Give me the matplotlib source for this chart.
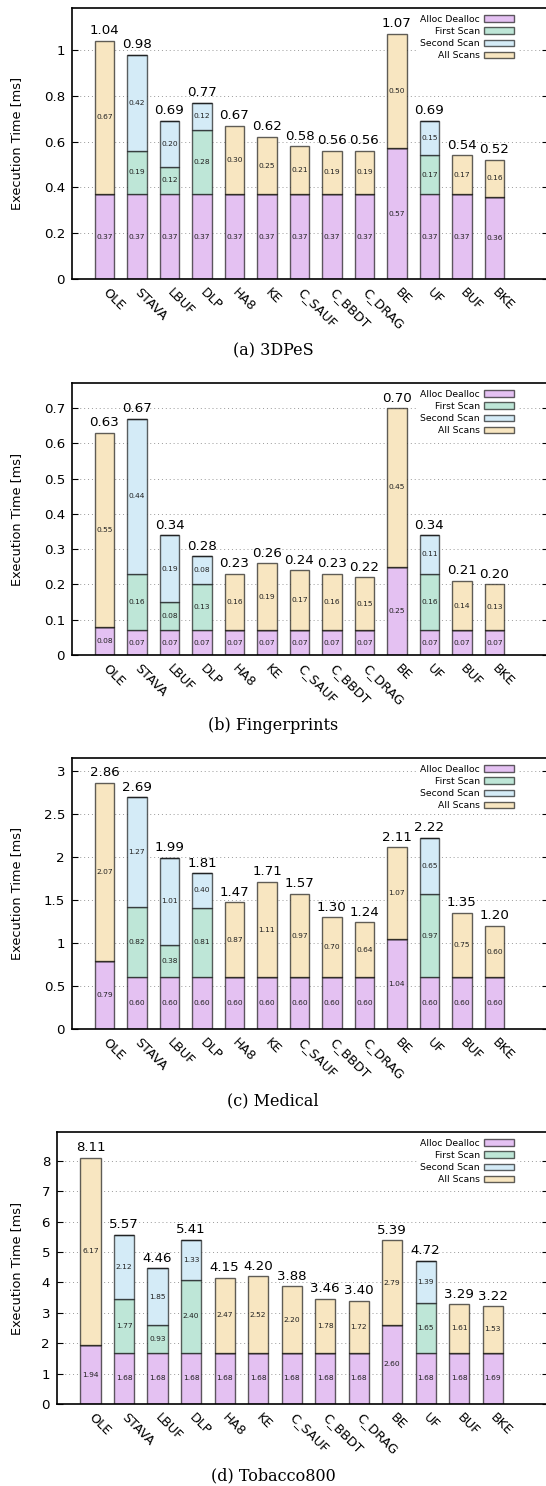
import matplotlib
matplotlib.use("Agg")
import matplotlib.pyplot as plt
import numpy as np

W, H = 546, 1486
DPI = 100

methods = ["OLE", "STAVA", "LBUF", "DLP", "HA8", "KE", "C_SAUF",
           "C_BBDT", "C_DRAG", "BE", "UF", "BUF", "BKE"]
series = ["Alloc Dealloc", "First Scan", "Second Scan", "All Scans"]
colors = ["#e4c1f2", "#bee6d7", "#d4ebf7", "#f8e6c1"]

# (a) 3DPeS
alloc_3dpes = [0.37, 0.37, 0.37, 0.37, 0.37, 0.37, 0.37, 0.37, 0.37, 0.57, 0.37, 0.37, 0.36]
first_3dpes = [0, 0.19, 0.12, 0.28, 0, 0, 0, 0, 0, 0, 0.17, 0, 0]
second_3dpes = [0, 0.42, 0.20, 0.12, 0, 0, 0, 0, 0, 0, 0.15, 0, 0]
all_3dpes = [0.67, 0, 0, 0, 0.30, 0.25, 0.21, 0.19, 0.19, 0.50, 0, 0.17, 0.16]
total_3dpes = [1.04, 0.98, 0.69, 0.77, 0.67, 0.62, 0.58, 0.56, 0.56, 1.07, 0.69, 0.54, 0.52]

# (b) Fingerprints
alloc_fing = [0.08, 0.07, 0.07, 0.07, 0.07, 0.07, 0.07, 0.07, 0.07, 0.25, 0.07, 0.07, 0.07]
first_fing = [0, 0.16, 0.08, 0.13, 0, 0, 0, 0, 0, 0, 0.16, 0, 0]
second_fing = [0, 0.44, 0.19, 0.08, 0, 0, 0, 0, 0, 0, 0.11, 0, 0]
all_fing = [0.55, 0, 0, 0, 0.16, 0.19, 0.17, 0.16, 0.15, 0.45, 0, 0.14, 0.13]
total_fing = [0.63, 0.67, 0.34, 0.28, 0.23, 0.26, 0.24, 0.23, 0.22, 0.70, 0.34, 0.21, 0.20]

# (c) Medical
alloc_med = [0.79, 0.60, 0.60, 0.60, 0.60, 0.60, 0.60, 0.60, 0.60, 1.04, 0.60, 0.60, 0.60]
first_med = [0, 0.82, 0.38, 0.81, 0, 0, 0, 0, 0, 0, 0.97, 0, 0]
second_med = [0, 1.27, 1.01, 0.40, 0, 0, 0, 0, 0, 0, 0.65, 0, 0]
all_med = [2.07, 0, 0, 0, 0.87, 1.11, 0.97, 0.70, 0.64, 1.07, 0, 0.75, 0.60]
total_med = [2.86, 2.69, 1.99, 1.81, 1.47, 1.71, 1.57, 1.30, 1.24, 2.11, 2.22, 1.35, 1.20]

# (d) Tobacco800
alloc_tob = [1.94, 1.68, 1.68, 1.68, 1.68, 1.68, 1.68, 1.68, 1.68, 2.60, 1.68, 1.68, 1.69]
first_tob = [0, 1.77, 0.93, 2.40, 0, 0, 0, 0, 0, 0, 1.65, 0, 0]
second_tob = [0, 2.12, 1.85, 1.33, 0, 0, 0, 0, 0, 0, 1.39, 0, 0]
all_tob = [6.17, 0, 0, 0, 2.47, 2.52, 2.20, 1.78, 1.72, 2.79, 0, 1.61, 1.53]
total_tob = [8.11, 5.57, 4.46, 5.41, 4.15, 4.20, 3.88, 3.46, 3.40, 5.39, 4.72, 3.29, 3.22]

panels = [
    ("(a) 3DPeS", [alloc_3dpes, first_3dpes, second_3dpes, all_3dpes], total_3dpes,
     1.183, 0.2, (72, 8, 548, 279), 351),
    ("(b) Fingerprints", [alloc_fing, first_fing, second_fing, all_fing], total_fing,
     0.771, 0.1, (72, 383, 548, 655), 726),
    ("(c) Medical", [alloc_med, first_med, second_med, all_med], total_med,
     3.148, 0.5, (72, 758, 548, 1029), 1101),
    ("(d) Tobacco800", [alloc_tob, first_tob, second_tob, all_tob], total_tob,
     8.95, 1.0, (57, 1132, 548, 1404), 1476),
]

plt.rcParams["font.family"] = ["DejaVu Sans"]
edge = (0, 0, 0, 0.62)

fig = plt.figure(figsize=(W / DPI, H / DPI), dpi=DPI)
x = np.arange(len(methods))

for caption, parts, totals, ymax, ystep, (l, t, r, b), cap_y in panels:
    ax = fig.add_axes([l / W, 1 - b / H, (r - l) / W, (b - t) / H])
    bottom = np.zeros(len(methods))
    for vals, col, name in zip(parts, colors, series):
        vals = np.array(vals, dtype=float)
        ax.bar(x, vals, 0.6, bottom=bottom, color=col, edgecolor=edge,
               linewidth=1.0, label=name, zorder=2)
        for xi, v, b0 in zip(x, vals, bottom):
            if v > 0:
                ax.text(xi, b0 + v / 2, f"{v:.2f}", ha="center", va="center",
                        fontsize=5.4, color="#222222", zorder=3)
        bottom = bottom + vals
    for xi, tot in zip(x, totals):
        ax.annotate(f"{tot:.2f}", (xi, tot), xytext=(0, 2.5), textcoords="offset points",
                    ha="center", va="bottom", fontsize=9.6, zorder=3)

    ax.set_xlim(-1.0, 13.65)
    ax.set_ylim(0, ymax)
    yt = np.arange(0, ymax + 1e-9, ystep)
    ax.set_yticks(yt)
    ax.set_yticklabels([f"{v:g}" for v in np.round(yt, 2)])
    ax.set_xticks(x)
    ax.set_xticklabels(methods, rotation=-45, ha="left", va="center",
                       rotation_mode="anchor", fontsize=9.2)
    ax.tick_params(axis="x", length=0, pad=8)
    ax.tick_params(axis="y", direction="in", length=4, labelsize=9.6,
                   right=True, width=0.8, pad=5)
    ax.grid(axis="y", linestyle=(0, (1, 3)), color="#999999", linewidth=0.7, zorder=0)
    ax.set_axisbelow(True)
    for s in ax.spines.values():
        s.set_linewidth(1.2)

    leg = ax.legend(loc="upper right", bbox_to_anchor=(517 / W, 1 - (t + 4) / H),
                    bbox_transform=fig.transFigure, fontsize=6.7, markerfirst=False,
                    frameon=True, facecolor="white", edgecolor="none", framealpha=1,
                    handlelength=3.2, handleheight=0.65, labelspacing=0.33,
                    handletextpad=0.5, borderpad=0.3, borderaxespad=0)
    leg._legend_box.align = "right"
    leg.set_zorder(4)

    fig.text(17 / W, 1 - ((t + b) / 2) / H, "Execution Time [ms]", rotation=90,
             ha="center", va="center", fontsize=9.3)
    fig.text(0.5, 1 - cap_y / H, caption, ha="center", va="center",
             fontsize=11.5, family="DejaVu Serif")

fig.savefig("out.png", dpi=DPI)
